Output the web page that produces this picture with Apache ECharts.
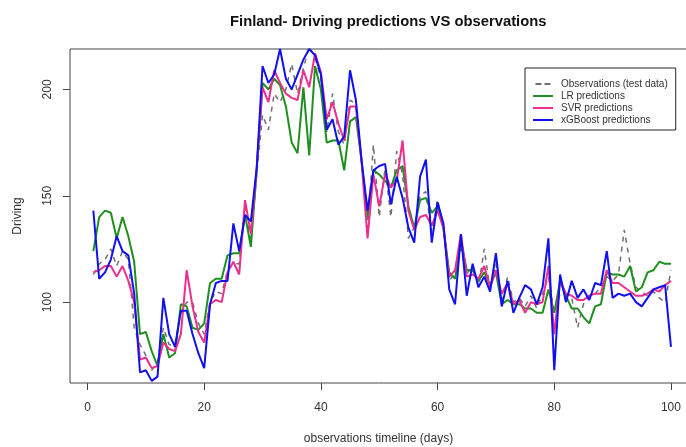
<!DOCTYPE html>
<html><head><meta charset="utf-8">
<script src="https://cdn.jsdelivr.net/npm/echarts@6/dist/echarts.min.js"></script>
<style>html,body{margin:0;padding:0;background:#fff}#c{width:686px;height:447px}</style>
</head><body><div id="c"></div>
<script>
const days = Array.from({length:100},(_,i)=>i+1);
const xTicks = [0,20,40,60,80,100];
const yTicks = [100,150,200];
const observations = [113,118,120,125,117,124,120,88,80,75,68,72,88,80,80,95,100,100,90,85,100,105,104,115,118,118,145,128,160,188,181,198,194,200,212,198,210,220,215,205,180,198,180,174,195,193,165,135,174,140,163,140,171,160,130,135,150,152,133,148,135,110,114,125,113,118,107,125,106,118,100,112,100,102,98,103,97,104,112,95,104,104,102,88,99,103,104,107,112,110,113,134,118,107,105,103,105,102,100,115];
const lrPred = [124,140,143,142,130,140,131,119,85,86,77,70,85,74,76,99,98,88,87,90,109,111,111,122,123,123,141,126,162,203,200,205,202,192,175,170,201,169,211,200,175,176,176,162,185,187,166,140,162,160,157,154,162,164,145,135,148,149,142,145,135,114,111,129,115,115,110,114,108,114,99,101,99,99,97,97,95,95,106,95,110,103,97,97,93,90,98,99,114,113,113,112,117,105,107,114,115,119,118,118];
const svrPred = [114,115,117,117,112,117,110,100,73,74,69,70,81,78,77,85,115,98,86,81,99,101,100,114,119,113,148,132,163,201,194,209,203,198,196,195,209,201,217,208,186,194,184,176,192,192,165,130,160,145,160,154,157,176,143,134,140,141,136,143,135,112,115,132,112,113,111,117,107,115,104,109,99,101,95,100,99,100,117,85,110,104,103,101,101,103,104,104,115,109,109,107,105,103,103,104,106,105,108,110];
const xgbPred = [143,111,114,120,131,124,122,104,67,68,63,65,102,85,79,96,96,85,76,69,99,109,110,110,137,124,141,138,163,211,203,207,219,205,200,207,214,219,216,207,181,186,174,178,209,195,166,143,162,164,165,146,159,149,135,128,159,167,128,147,137,106,99,132,103,118,107,112,105,123,98,110,95,102,108,106,99,107,130,68,113,100,110,102,106,101,109,108,124,102,104,103,104,100,98,102,106,107,108,79];
const seriesNames = ['Observations (test data)','LR predictions','SVR predictions','xGBoost predictions'];

const pair = a => days.map((d,i)=>[d,a[i]]);
const font = 'Liberation Sans, Arial, sans-serif';
const solidIcon = 'path://M0,0h20v2h-20z';
const dashIcon = 'path://M0,0h6v2h-6z M9,0h6v2h-6z';
const chart = echarts.init(document.getElementById('c'), null, {renderer:'canvas'});
chart.setOption({
  animation:false,
  backgroundColor:'#fff',
  title:{text:'Finland- Driving predictions VS observations', left:225, top:9,
    textStyle:{fontFamily:font, fontSize:14.8, fontWeight:'bold', color:'#111'}},
  grid:{left:70, top:49, right:-1, bottom:64, show:true, borderColor:'#444', borderWidth:1,
    containLabel:false, outerBoundsMode:'none'},
  legend:{orient:'vertical', left:525, top:68, width:150,
    backgroundColor:'#fff', borderColor:'#222', borderWidth:1, padding:[10,8,4,8],
    itemWidth:20, itemHeight:2, itemGap:0,
    textStyle:{fontFamily:font, fontSize:10, color:'#333', lineHeight:12, padding:[0,0,0,3]},
    data:[{name:seriesNames[0], icon:dashIcon, itemStyle:{color:'#707070'}},
          {name:seriesNames[1], icon:solidIcon},
          {name:seriesNames[2], icon:solidIcon},
          {name:seriesNames[3], icon:solidIcon}]},
  xAxis:{type:'value', min:-3, max:102.75,
    name:'observations timeline (days)', nameLocation:'middle', nameGap:50,
    nameTextStyle:{fontFamily:font, fontSize:12, color:'#333'},
    axisLine:{show:false, onZero:false}, splitLine:{show:false},
    axisTick:{show:true, length:7, inside:false, customValues:xTicks, lineStyle:{color:'#444'}},
    axisLabel:{customValues:xTicks, margin:19, fontFamily:font, fontSize:12, color:'#333'}},
  yAxis:{type:'value', min:62, max:219,
    name:'Driving', nameLocation:'middle', nameGap:46,
    nameTextStyle:{fontFamily:font, fontSize:12, color:'#333'},
    axisLine:{show:false, onZero:false}, splitLine:{show:false},
    axisTick:{show:true, length:7, inside:false, customValues:yTicks, lineStyle:{color:'#444'}},
    axisLabel:{customValues:yTicks, rotate:90, margin:16, fontFamily:font, fontSize:12, color:'#333'}},
  series:[
    {name:seriesNames[0], type:'line', data:pair(observations), showSymbol:false, symbol:'none',
      lineStyle:{color:'#707070', width:1.5, type:[5,5]}, itemStyle:{color:'#707070'}},
    {name:seriesNames[1], type:'line', data:pair(lrPred), showSymbol:false, symbol:'none',
      lineStyle:{color:'#1f8f1f', width:2}, itemStyle:{color:'#1f8f1f'}},
    {name:seriesNames[2], type:'line', data:pair(svrPred), showSymbol:false, symbol:'none',
      lineStyle:{color:'#ee2e8c', width:2}, itemStyle:{color:'#ee2e8c'}},
    {name:seriesNames[3], type:'line', data:pair(xgbPred), showSymbol:false, symbol:'none',
      lineStyle:{color:'#1010f0', width:2}, itemStyle:{color:'#1010f0'}}
  ]
});
</script></body></html>
